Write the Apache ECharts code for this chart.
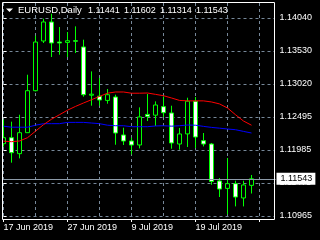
<!DOCTYPE html>
<html><head><meta charset="utf-8">
<script src="https://cdn.jsdelivr.net/npm/echarts@6/dist/echarts.min.js"></script>
<style>html,body{margin:0;padding:0;background:#000;}#c{width:320px;height:240px;}</style>
</head><body><div id="c"></div>
<script>
const symbolName = 'EURUSD,Daily';
const dates = ['17 Jun 2019','18 Jun 2019','19 Jun 2019','20 Jun 2019','21 Jun 2019','24 Jun 2019','25 Jun 2019','26 Jun 2019',
  '27 Jun 2019','28 Jun 2019','1 Jul 2019','2 Jul 2019','3 Jul 2019','4 Jul 2019','5 Jul 2019','8 Jul 2019',
  '9 Jul 2019','10 Jul 2019','11 Jul 2019','12 Jul 2019','15 Jul 2019','16 Jul 2019','17 Jul 2019','18 Jul 2019',
  '19 Jul 2019','22 Jul 2019','23 Jul 2019','24 Jul 2019','25 Jul 2019','26 Jul 2019','29 Jul 2019','30 Jul 2019'];
const openPrices  = [1.12088,1.12181,1.11933,1.12259,1.12911,1.13683,1.13978,1.13667,1.13661,1.13687,1.13590,1.12841,1.12826,1.12760,1.12813,1.12223,1.12130,1.12068,1.12543,1.12531,1.12663,1.12565,1.12083,1.12240,1.12748,1.12135,1.12083,1.11509,1.11394,1.11467,1.11245,1.11441];
const highPrices  = [1.12461,1.12430,1.12538,1.13159,1.13765,1.14029,1.14107,1.13900,1.13823,1.13910,1.13703,1.13211,1.13108,1.12937,1.12849,1.12336,1.12181,1.12652,1.12860,1.12745,1.12822,1.12678,1.12332,1.12802,1.12813,1.12254,1.12099,1.11555,1.11866,1.11513,1.11513,1.11602];
const lowPrices   = [1.12041,1.11793,1.11860,1.12259,1.12900,1.13652,1.13434,1.13470,1.13434,1.13496,1.12818,1.12678,1.12678,1.12709,1.12072,1.12068,1.11922,1.12015,1.12440,1.12363,1.12503,1.12010,1.11995,1.12037,1.12021,1.12046,1.11451,1.11260,1.10990,1.11114,1.11114,1.11314];
const closePrices = [1.12181,1.11948,1.12259,1.12911,1.13667,1.13978,1.13652,1.13652,1.13687,1.13680,1.12849,1.12857,1.12767,1.12849,1.12254,1.12130,1.12068,1.12503,1.12512,1.12689,1.12569,1.12099,1.12239,1.12748,1.12192,1.12083,1.11502,1.11384,1.11467,1.11260,1.11447,1.11543];
const maRed  = [1.12127,1.12119,1.12130,1.12181,1.12282,1.12383,1.12468,1.12538,1.12608,1.12667,1.12720,1.12771,1.12822,1.12872,1.12891,1.12891,1.12872,1.12872,1.12875,1.12854,1.12833,1.12798,1.12760,1.12753,1.12753,1.12753,1.12736,1.12706,1.12642,1.12538,1.12440,1.12375];
const maBlue = [1.12360,1.12344,1.12344,1.12344,1.12375,1.12399,1.12399,1.12399,1.12419,1.12419,1.12419,1.12409,1.12399,1.12375,1.12367,1.12367,1.12352,1.12352,1.12352,1.12363,1.12367,1.12360,1.12367,1.12378,1.12375,1.12357,1.12341,1.12329,1.12316,1.12305,1.12279,1.12254];
const priceTickLabels = ['1.10965','1.11475','1.11985','1.12495','1.13020','1.13530','1.14040'];
const emptySlots = ['', '', ''];

const tickMin = 1.10965, tickMax = 1.14040;
const tickStep = (tickMax - tickMin) / (priceTickLabels.length - 1);
const pxPerStep = 33;
const unit = tickStep / pxPerStep;
const mainMax = tickMax + 15 * unit;
const mainMin = tickMin - 3 * unit;

const categories = dates.concat(emptySlots);
const candleData = openPrices.map((o, i) => [o, closePrices[i], lowPrices[i], highPrices[i]]);
const last = openPrices.length - 1;
const headerVals = [openPrices[last], highPrices[last], lowPrices[last], closePrices[last]].map(v => v.toFixed(5));

const FONT = '"Liberation Sans", Arial, sans-serif';
const gridColor = '#778899';
const chart = echarts.init(document.getElementById('c'), null, {renderer: 'canvas'});

const headerText = [{type: 'text', x: 18, y: 10.5, style: {text: symbolName, fill: '#fff', font: '9.5px ' + FONT, verticalAlign: 'middle'}}];
headerVals.forEach((t, i) => headerText.push({type: 'text', x: 88 + i * 36, y: 10.5, style: {text: t, fill: '#fff', font: '9px ' + FONT, verticalAlign: 'middle'}}));

chart.setOption({
  backgroundColor: '#000',
  animation: false,
  grid: [
    {left: 3.5, top: 3, width: 272, height: 216, containLabel: false},
    {left: 3.5, top: 18, width: 271, height: 198, containLabel: false}
  ],
  xAxis: [
    {type: 'category', gridIndex: 0, data: categories, boundaryGap: false,
     axisLine: {show: false},
     axisTick: {show: true, interval: 7, length: 3, lineStyle: {color: '#fff'}},
     axisLabel: {show: true, interval: 7, align: 'left', color: '#fff', fontSize: 9, fontFamily: FONT, margin: 4},
     splitLine: {show: true, interval: 3, lineStyle: {color: gridColor, type: [3, 3], width: 1}}},
    {type: 'value', gridIndex: 1, show: false}
  ],
  yAxis: [
    {type: 'value', gridIndex: 0, min: mainMin, max: mainMax, show: false, splitLine: {show: false}},
    {type: 'value', gridIndex: 1, position: 'right', min: tickMin, max: tickMax, interval: tickStep,
     axisLine: {show: false},
     axisTick: {show: true, length: 3, lineStyle: {color: '#fff'}},
     axisLabel: {color: '#fff', fontSize: 9, fontFamily: FONT, margin: 5,
       formatter: v => priceTickLabels[Math.round((v - tickMin) / tickStep)] || ''},
     splitLine: {show: true, lineStyle: {color: gridColor, type: [3, 3], width: 1}}}
  ],
  graphic: [
    {type: 'rect', shape: {x: 0, y: 0, width: 2.5, height: 220}, style: {fill: '#000'}, z: 9, silent: true},
    {type: 'rect', shape: {x: 2.5, y: 2.5, width: 272, height: 217}, style: {fill: null, stroke: '#fff', lineWidth: 1}, z: 10, silent: true},
    {type: 'polygon', shape: {points: [[6, 8.5], [13, 8.5], [9.5, 12]]}, style: {fill: '#fff'}, z: 10}
  ].concat(headerText.map(t => Object.assign(t, {z: 10}))),
  series: [
    {type: 'candlestick', xAxisIndex: 0, yAxisIndex: 0, data: candleData, barWidth: 4, z: 2,
     itemStyle: {color: '#000', color0: '#fff', borderColor: '#00ff00', borderColor0: '#00ff00', borderColorDoji: '#00ff00', borderWidth: 1},
     markLine: {symbol: 'none', silent: true, animation: false, precision: 5,
       lineStyle: {color: '#8c9aa8', type: 'solid', width: 1},
       label: {show: true, position: 'end', distance: 1, color: '#000', backgroundColor: '#fff', fontSize: 9, fontFamily: FONT,
               padding: [2, 3, 1, 4], formatter: p => Number(p.value).toFixed(5)},
       data: [{yAxis: closePrices[last]}]}},
    {type: 'line', xAxisIndex: 0, yAxisIndex: 0, data: maBlue, showSymbol: false, symbol: 'none', z: 3,
     lineStyle: {color: '#0000ff', width: 1}},
    {type: 'line', xAxisIndex: 0, yAxisIndex: 0, data: maRed, showSymbol: false, symbol: 'none', z: 4,
     lineStyle: {color: '#ff0000', width: 1}}
  ]
});
</script></body></html>
